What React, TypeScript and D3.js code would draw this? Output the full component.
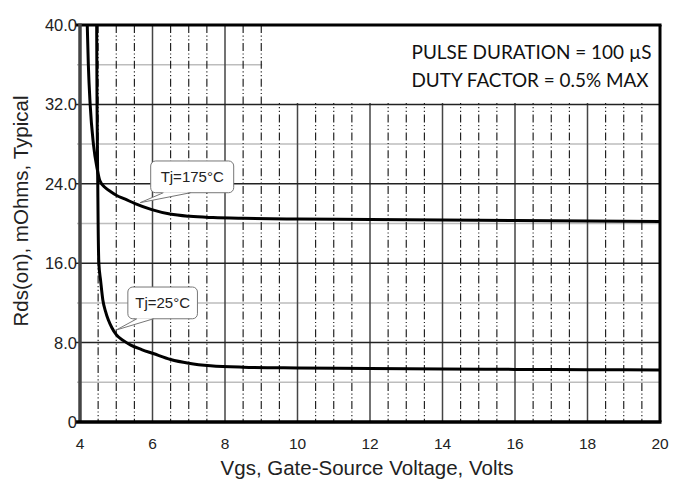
import React from "react";
import * as d3 from "d3";

const vgs175 = [4.2, 4.23, 4.28, 4.37, 4.48, 4.55, 4.7, 4.85, 5.0, 5.25, 5.52, 5.98, 6.48, 7.03, 7.67, 8.5, 10, 12, 14, 16, 18, 20];
const rds175 = [40, 36, 32, 28, 25.4, 24.3, 23.6, 23.2, 22.85, 22.45, 22.0, 21.4, 20.95, 20.72, 20.6, 20.52, 20.45, 20.4, 20.35, 20.3, 20.25, 20.2];

const vgs25 = [4.46, 4.47, 4.49, 4.5, 4.52, 4.57, 4.63, 4.7, 4.78, 4.88, 5.0, 5.2, 5.4, 5.7, 6.02, 6.5, 7.0, 7.6, 8.5, 10, 12, 14, 16, 18, 20];
const rds25 = [40, 32, 24, 20, 16, 14.2, 12.3, 11.2, 10.3, 9.5, 8.8, 8.2, 7.75, 7.3, 6.9, 6.3, 5.92, 5.66, 5.52, 5.45, 5.4, 5.35, 5.3, 5.27, 5.24];

const xTicks = [4, 6, 8, 10, 12, 14, 16, 18, 20];
const yTicks = [0, 8, 16, 24, 32, 40];
const yTickLabels = ["0", "8.0", "16.0", "24.0", "32.0", "40.0"];
const yMinor = [4, 12, 20, 28, 36];
const xMinor = d3.range(4.5, 20, 0.5).filter((v) => v % 2 !== 0);

const noteLines = ["PULSE DURATION = 100 µS", "DUTY FACTOR = 0.5% MAX"];

const callouts = [
  { label: "Tj=175°C", tipX: 5.66, tipY: 22.1, boxX0: 5.95, boxX1: 8.24, boxY0: 26.3, boxY1: 23.1, baseX0: 6.3, baseX1: 7.05 },
  { label: "Tj=25°C", tipX: 5.0, tipY: 9.27, boxX0: 5.32, boxX1: 7.24, boxY0: 13.6, boxY1: 10.4, baseX0: 5.57, baseX1: 6.03 },
];

export default function App() {
  const W = 683, H = 480;
  const L = 80, R = 660, T = 25, B = 422;
  const x = d3.scaleLinear().domain([4, 20]).range([L, R]);
  const y = d3.scaleLinear().domain([0, 40]).range([B, T]);

  const mk = d3
    .line<[number, number]>()
    .x((d) => x(d[0]))
    .y((d) => y(d[1]))
    .curve(d3.curveMonotoneX);
  const path175 = mk(vgs175.map((v, i) => [v, rds175[i]] as [number, number]));
  const path25 = mk(vgs25.map((v, i) => [v, rds25[i]] as [number, number]));

  const font = "'Liberation Sans', Arial, sans-serif";

  return (
    <svg width={W} height={H} style={{ position: "absolute", left: 0, top: 0, background: "#fff" }}>
      <defs>
        <clipPath id="plot">
          <rect x={L} y={T} width={R - L} height={B - T} />
        </clipPath>
      </defs>
      <rect x={0} y={0} width={W} height={H} fill="#fff" />
      {yMinor.map((v) => (
        <line key={"ym" + v} x1={L - 3} x2={R} y1={y(v)} y2={y(v)} stroke="#bdbdbd" strokeWidth={1.5} />
      ))}
      {xMinor.map((v) => (
        <line key={"xm" + v} x1={x(v)} x2={x(v)} y1={T} y2={B} stroke="#111" strokeWidth={1.1} strokeDasharray="8,2.5,1.2,2.5,1.2,2.5" />
      ))}
      {xTicks.slice(1, -1).map((v) => (
        <line key={"xM" + v} x1={x(v)} x2={x(v)} y1={T} y2={B} stroke="#444" strokeWidth={1.5} />
      ))}
      {yTicks.slice(1, -1).map((v) => (
        <line key={"yM" + v} x1={L - 4} x2={R} y1={y(v)} y2={y(v)} stroke="#222" strokeWidth={1.5} />
      ))}
      <g clipPath="url(#plot)">
        <path d={path175 || ""} fill="none" stroke="#000" strokeWidth={3} />
        <path d={path25 || ""} fill="none" stroke="#000" strokeWidth={3} />
      </g>
      {/* note box */}
      <rect x={x(9) + 1} y={T} width={R - x(9) - 1} height={103 - T} fill="#fff" />
      {noteLines.map((t, i) => (
        <text key={t} x={411.5} y={59 + i * 28} fontFamily="Lato, 'Open Sans', sans-serif" fontSize={18.5} fill="#111"
          textLength={i === 0 ? 240 : 237} lengthAdjust="spacingAndGlyphs">
          {t}
        </text>
      ))}
      {/* frame */}
      <line x1={L - 4} x2={R + 1.5} y1={T} y2={T} stroke="#000" strokeWidth={3} />
      <line x1={R} x2={R} y1={T} y2={B} stroke="#000" strokeWidth={3} />
      <line x1={L} x2={L} y1={T - 1.5} y2={B} stroke="#444" strokeWidth={3.5} />
      <line x1={L - 4} x2={R + 1.5} y1={B} y2={B} stroke="#000" strokeWidth={3.5} />
      {yTicks.map((v, i) => (
        <text key={"yl" + v} x={L - 3} y={y(v)} dy="0.36em" textAnchor="end" fontFamily={font} fontSize={16.5} fill="#222">
          {yTickLabels[i]}
        </text>
      ))}
      {xTicks.map((v) => (
        <text key={"xl" + v} x={x(v)} y={449} textAnchor="middle" fontFamily={font} fontSize={15.5} fill="#222">
          {v}
        </text>
      ))}
      <text x={367} y={475} textAnchor="middle" fontFamily={font} fontSize={20.5} fill="#222">
        Vgs, Gate-Source Voltage, Volts
      </text>
      <text transform="translate(28,211) rotate(-90)" textAnchor="middle" fontFamily={font} fontSize={20.5} fill="#222">
        Rds(on), mOhms, Typical
      </text>
      {callouts.map((c) => {
        const bx0 = x(c.boxX0), bx1 = x(c.boxX1), by0 = y(c.boxY0), by1 = y(c.boxY1);
        const tx = x(c.tipX), ty = y(c.tipY);
        const b0 = x(c.baseX0), b1 = x(c.baseX1);
        return (
          <g key={c.label}>
            <rect x={bx0} y={by0} width={bx1 - bx0} height={by1 - by0} rx={5} fill="#fff" stroke="#777" strokeWidth={1} />
            <path d={`M${b0},${by1 - 0.5}L${tx},${ty}L${b1},${by1 - 0.5}Z`} fill="#fff" stroke="none" />
            <path d={`M${b0},${by1}L${tx},${ty}L${b1},${by1}`} fill="none" stroke="#777" strokeWidth={1} />
            <text x={(bx0 + bx1) / 2} y={(by0 + by1) / 2} dy="0.36em" textAnchor="middle" fontFamily={font} fontSize={15} fill="#222">
              {c.label}
            </text>
          </g>
        );
      })}
    </svg>
  );
}
